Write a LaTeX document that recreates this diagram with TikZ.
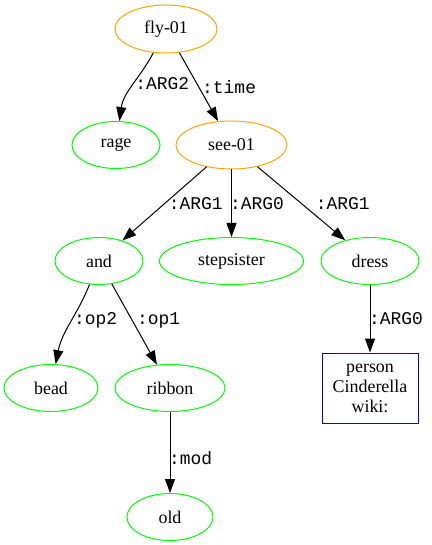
\documentclass[tikz,border=0pt]{standalone}
\usepackage{fontspec}
\setmainfont{Liberation Serif}
\setmonofont{Liberation Mono}
\usepackage{tikz}
\usetikzlibrary{shapes,arrows.meta}
\usetikzlibrary{positioning}
\definecolor{predorange}{RGB}{255,165,0}
\definecolor{conceptgreen}{RGB}{0,255,0}
\definecolor{namedblue}{RGB}{0,0,255}
\tikzstyle{pred} = [ellipse, draw=predorange, line width=1bp, inner sep=0pt,
    minimum height=48bp, font=\fontsize{18}{20}\selectfont]
\tikzstyle{concept} = [ellipse, draw=conceptgreen, line width=1bp, inner sep=0pt,
    minimum height=47bp, font=\fontsize{18}{20}\selectfont]
\tikzstyle{named} = [rectangle, draw=namedblue, line width=1bp, align=center,
    minimum width=96bp, minimum height=70bp, font=\fontsize{18}{20}\selectfont]
\tikzstyle{rel} = [inner sep=0pt, font=\fontsize{18}{20}\ttfamily]
\tikzstyle{arrow} = [line width=1bp,-{Triangle[length=14bp,width=10bp]}]

\begin{document}
\begin{tikzpicture}[x=1bp, y=1bp]
    \useasboundingbox (0,0) rectangle (431,-545);
    % Place nodes
    \node [pred, minimum width=102bp] (fly) at (166,-29) {fly-01};
    \node [concept, minimum width=88bp] (rage) at (116,-145) {rage};
    \node [pred, minimum width=111bp] (see) at (231.5,-145) {see-01};
    \node [concept, minimum width=88bp] (and) at (99,-261) {and};
    \node [concept, minimum width=144bp] (stepsister) at (231.5,-261) {stepsister};
    \node [concept, minimum width=98bp] (dress) at (370,-261) {dress};
    \node [concept, minimum width=94bp] (bead) at (51,-388) {bead};
    \node [concept, minimum width=110bp] (ribbon) at (170,-388) {ribbon};
    \node [concept, minimum width=86bp] (old) at (170,-517) {old};
    \node [named] (person) at (370,-388) {person\\Cinderella\\wiki:};

    % Draw edges
    \draw [arrow] (fly) to[out=-118, in=82] node[rel, right=1bp, pos=.47] {:ARG2} (rage);
    \draw [arrow] (fly) -- node[rel, right=3bp] {:time} (see);
    \draw [arrow] (see) -- node[rel, right=4bp] {:ARG1} (and);
    \draw [arrow] (see) -- node[rel, right=-2bp] {:ARG0} (stepsister);
    \draw [arrow] (see) -- node[rel, right=14bp] {:ARG1} (dress);
    \draw [arrow] (and) to[out=-112, in=79] node[rel, right=1.5bp, pos=.45] {:op2} (bead);
    \draw [arrow] (and) -- node[rel, right=4.5bp, pos=.45] {:op1} (ribbon);
    \draw [arrow] (ribbon) -- node[rel, right=-1.5bp, pos=.57] {:mod} (old);
    \draw [arrow] (dress) -- node[rel, right=-1.5bp] {:ARG0} (person);
\end{tikzpicture}
\end{document}
